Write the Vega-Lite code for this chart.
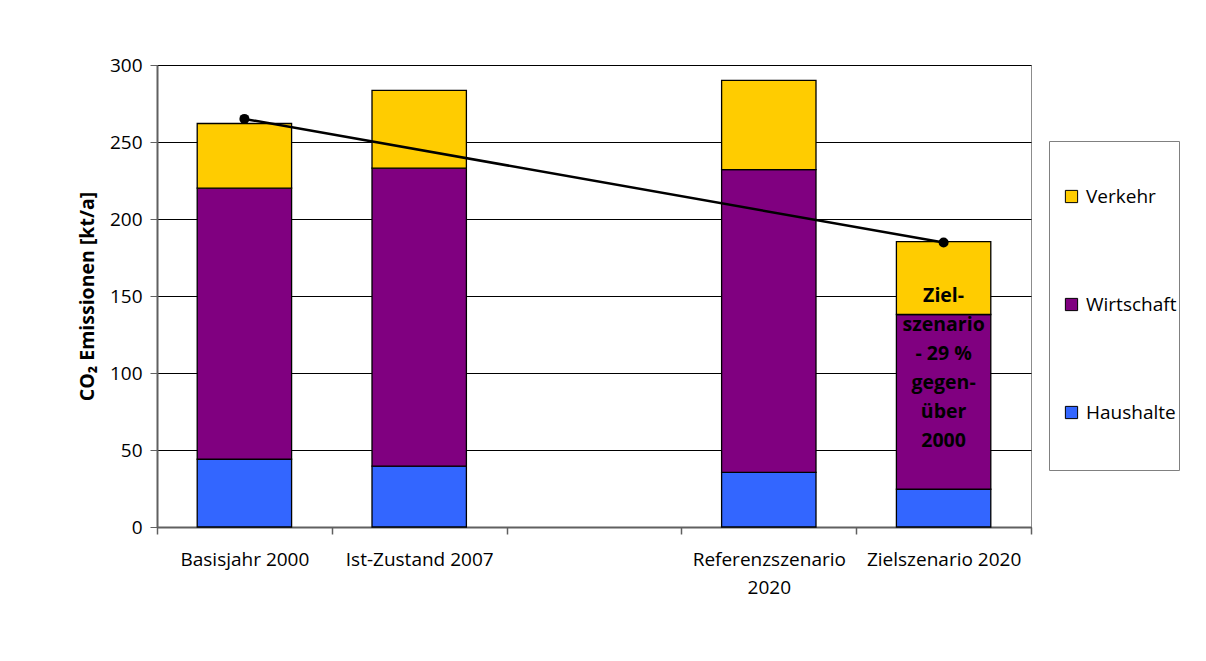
{
  "$schema": "https://vega.github.io/schema/vega-lite/v6.json",
  "width": 874,
  "height": 462,
  "autosize": {"type": "none"},
  "padding": {"left": 157, "top": 65, "right": 175, "bottom": 134},
  "background": "white",
  "config": {
    "view": {"stroke": "#8c8c8c", "strokeWidth": 1},
    "font": "Open Sans"
  },
  "datasets": {
    "bars": [
      {"cat": "Basisjahr 2000", "component": "Haushalte", "ord": 1, "value": 44},
      {"cat": "Basisjahr 2000", "component": "Wirtschaft", "ord": 2, "value": 176},
      {"cat": "Basisjahr 2000", "component": "Verkehr", "ord": 3, "value": 42},
      {"cat": "Ist-Zustand 2007", "component": "Haushalte", "ord": 1, "value": 39.5},
      {"cat": "Ist-Zustand 2007", "component": "Wirtschaft", "ord": 2, "value": 193.5},
      {"cat": "Ist-Zustand 2007", "component": "Verkehr", "ord": 3, "value": 50.5},
      {"cat": "Referenzszenario 2020", "component": "Haushalte", "ord": 1, "value": 35.5},
      {"cat": "Referenzszenario 2020", "component": "Wirtschaft", "ord": 2, "value": 196.5},
      {"cat": "Referenzszenario 2020", "component": "Verkehr", "ord": 3, "value": 58},
      {"cat": "Zielszenario 2020", "component": "Haushalte", "ord": 1, "value": 24.5},
      {"cat": "Zielszenario 2020", "component": "Wirtschaft", "ord": 2, "value": 113.5},
      {"cat": "Zielszenario 2020", "component": "Verkehr", "ord": 3, "value": 47.3}
    ],
    "line": [
      {"cat": "Basisjahr 2000", "value": 265},
      {"cat": "Zielszenario 2020", "value": 184.7}
    ],
    "note": [
      {"cat": "Zielszenario 2020", "value": 150, "text": "Ziel-\nszenario\n- 29 %\ngegen-\nüber\n2000"}
    ]
  },
  "encoding": {
    "x": {
      "field": "cat",
      "type": "nominal",
      "scale": {
        "domain": ["Basisjahr 2000", "Ist-Zustand 2007", " ", "Referenzszenario 2020", "Zielszenario 2020"],
        "paddingInner": 0,
        "paddingOuter": 0
      },
      "axis": {
        "title": null,
        "labelAngle": 0,
        "labelFontSize": 19,
        "labelColor": "#000000",
        "labelPadding": 16,
        "labelBaseline": "top",
        "labelLineHeight": 28,
        "labelExpr": "datum.label == 'Referenzszenario 2020' ? ['Referenzszenario', '2020'] : datum.label",
        "tickBand": "extent",
        "tickSize": 7,
        "tickColor": "#606060",
        "tickWidth": 1.5,
        "domainColor": "#606060",
        "domainWidth": 2,
        "grid": false,
        "labelLimit": 300
      }
    }
  },
  "layer": [
    {
      "data": {"name": "bars"},
      "mark": {"type": "bar", "stroke": "#000000", "strokeWidth": 1.3, "width": {"band": 0.54}},
      "encoding": {
        "y": {
          "field": "value",
          "type": "quantitative",
          "stack": "zero",
          "scale": {"domain": [0, 300], "nice": false},
          "axis": {
            "values": [0, 50, 100, 150, 200, 250, 300],
            "title": "CO₂ Emissionen [kt/a]",
            "titleFontSize": 19.5,
            "titleFontWeight": "bold",
            "titleColor": "#000000",
            "titlePadding": 12,
            "labelFontSize": 19,
            "labelColor": "#000000",
            "labelPadding": 8,
            "tickSize": 7,
            "tickColor": "#606060",
            "domainColor": "#606060",
            "domainWidth": 2,
            "grid": true,
            "gridColor": "#000000",
            "gridWidth": 1
          }
        },
        "color": {
          "field": "component",
          "type": "nominal",
          "scale": {
            "domain": ["Verkehr", "Wirtschaft", "Haushalte"],
            "range": ["#ffcc00", "#800080", "#3366ff"]
          },
          "legend": {
            "title": " ",
            "titleFontSize": 16,
            "titlePadding": 28,
            "orient": "none",
            "legendX": 892,
            "legendY": 76,
            "strokeColor": "#808080",
            "fillColor": "#ffffff",
            "padding": 2,
            "symbolType": "square",
            "symbolSize": 150,
            "symbolStrokeColor": "#000000",
            "symbolStrokeWidth": 1,
            "symbolOffset": 11,
            "labelFontSize": 19,
            "labelColor": "#000000",
            "labelOffset": 5,
            "labelBaseline": "middle",
            "rowPadding": 43,
            "labelExpr": "[datum.label, '']",
            "encode": {"labels": {"update": {"lineHeight": {"value": 45}}}}
          }
        },
        "order": {"field": "ord", "type": "quantitative"}
      }
    },
    {
      "data": {"name": "line"},
      "mark": {"type": "line", "color": "#000000", "strokeWidth": 2.5, "point": {"filled": true, "size": 100, "color": "#000000"}},
      "encoding": {
        "y": {"field": "value", "type": "quantitative"}
      }
    },
    {
      "data": {"name": "note"},
      "mark": {"type": "text", "fontSize": 19.5, "fontWeight": "bold", "lineBreak": "\n", "lineHeight": 29, "baseline": "middle", "color": "#000000"},
      "encoding": {
        "y": {"field": "value", "type": "quantitative"},
        "text": {"field": "text"}
      }
    }
  ]
}
